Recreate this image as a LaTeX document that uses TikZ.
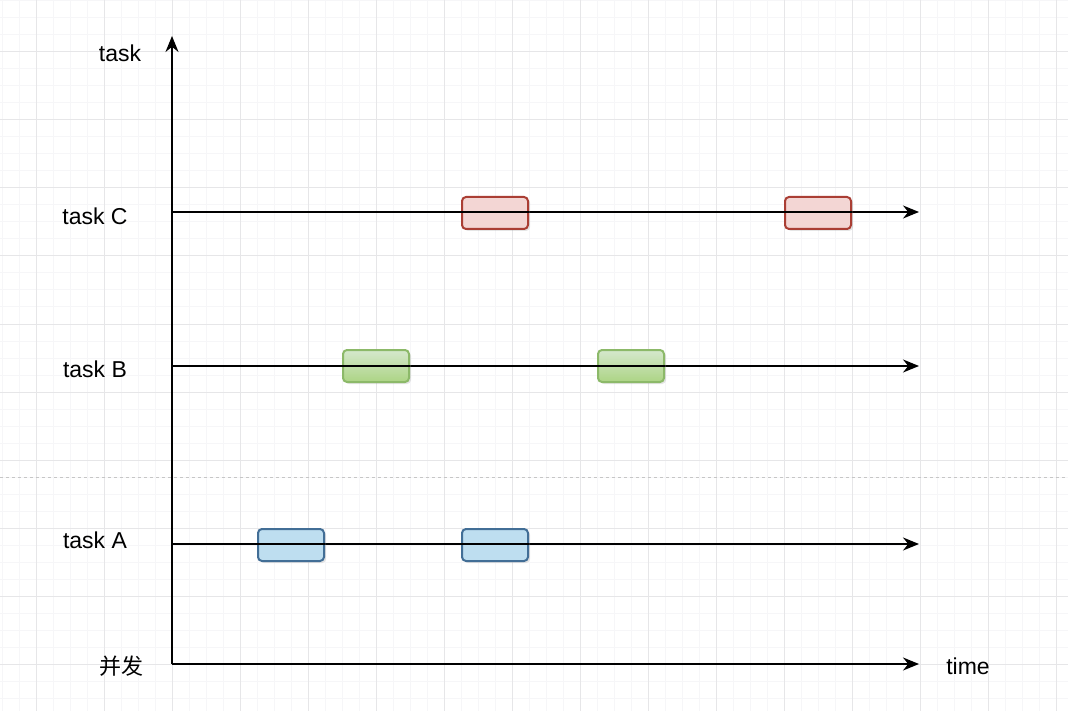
\documentclass[tikz,border=0pt]{standalone}
\usepackage{fontspec}
\setmainfont{Liberation Sans}
\newfontfamily\cjk{Noto Sans CJK SC}
\usetikzlibrary{arrows.meta}
\usetikzlibrary{shadows}

\definecolor{gridminor}{RGB}{246,246,248}
\definecolor{gridmajor}{RGB}{230,230,232}
\definecolor{blueFill}{RGB}{190,222,240}
\definecolor{blueLine}{RGB}{66,110,150}
\definecolor{greenTop}{RGB}{213,232,205}
\definecolor{greenBot}{RGB}{172,212,132}
\definecolor{greenLine}{RGB}{140,185,105}
\definecolor{redFill}{RGB}{243,214,212}
\definecolor{redLine}{RGB}{170,62,52}

\begin{document}
\begin{tikzpicture}[x=1pt,y=-1pt,
	axis/.style = {line width=2pt,
		-{Stealth[length=16pt,width=13pt]}},
	label/.style = {font=\fontsize{23}{28}\selectfont, inner sep=0pt},
	slot/.style = {rounded corners=4pt,
		line width=2pt,
		minimum width=66pt,
		minimum height=32pt,
		inner sep=0pt,
		drop shadow={shadow xshift=2pt,shadow yshift=-2pt,opacity=0.2}}]
	
	\useasboundingbox (0,0) rectangle (1068,711);
	
	% Grid
	\fill[white] (0,0) rectangle (1068,711);
	\begin{scope}[shift={(2,1)}]
		\draw[gridminor,line width=1pt,step=17pt] (-2,-1) grid (1066,710);
	\end{scope}
	\begin{scope}[shift={(36,52)}]
		\draw[gridmajor,line width=1pt,step=68pt] (-36,-52) grid (1032,659);
	\end{scope}
	\draw[gray!45,line width=1pt,dash pattern=on 3pt off 3pt] (0,477) -- (1068,477);
	
	% Axes
	\coordinate (O) at (172,664);
	\coordinate (taskTip) at (172,36);
	\coordinate (timeTip) at (919,664);
	\draw[axis] (O) -- (taskTip);
	\draw[axis] (O) -- (timeTip);
	
	% Task lines
	\coordinate (cStart) at (172,212);
	\coordinate (cEnd) at (919,212);
	\coordinate (bStart) at (172,366);
	\coordinate (bEnd) at (919,366);
	\coordinate (aStart) at (172,544);
	\coordinate (aEnd) at (919,544);
	\draw[axis] (cStart) -- (cEnd);
	\draw[axis] (bStart) -- (bEnd);
	\draw[axis] (aStart) -- (aEnd);
	
	% Task A slots
	\node[slot,draw=blueLine,fill=blueFill] (a1) at (291,545) {};
	\node[slot,draw=blueLine,fill=blueFill] (a2) at (495,545) {};
	
	% Task B slots
	\node[slot,draw=greenLine,top color=greenTop,bottom color=greenBot] (b1) at (376,366) {};
	\node[slot,draw=greenLine,top color=greenTop,bottom color=greenBot] (b2) at (631,366) {};
	
	% Task C slots
	\node[slot,draw=redLine,fill=redFill] (c1) at (495,213) {};
	\node[slot,draw=redLine,fill=redFill] (c2) at (818,213) {};
	
	% Redraw lines over the slots
	\draw[line width=2pt] (a1.west |- aStart) -- (a1.east |- aStart);
	\draw[line width=2pt] (a2.west |- aStart) -- (a2.east |- aStart);
	\draw[line width=2pt] (b1.west |- bStart) -- (b1.east |- bStart);
	\draw[line width=2pt] (b2.west |- bStart) -- (b2.east |- bStart);
	\draw[line width=2pt] (c1.west |- cStart) -- (c1.east |- cStart);
	\draw[line width=2pt] (c2.west |- cStart) -- (c2.east |- cStart);
	
	% Labels
	\node[label] (lblTask) at (120,53) {task};
	\node[label] (lblC) at (95,216) {task C};
	\node[label] (lblB) at (95,369) {task B};
	\node[label] (lblA) at (95,540) {task A};
	\node[label,font=\cjk\fontsize{22}{26}\selectfont] (lblCon) at (121,666) {并发};
	\node[label] (lblTime) at (968,666) {time};
	
\end{tikzpicture}
\end{document}
